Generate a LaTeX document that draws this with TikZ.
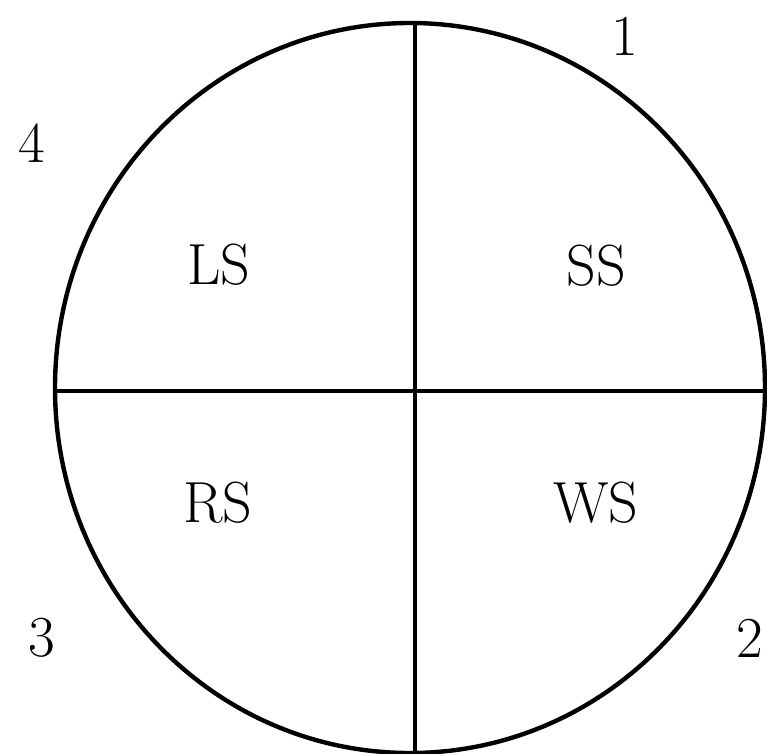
\documentclass[tikz,border=0pt]{standalone}
\usepackage{amsmath,amssymb}
\usetikzlibrary{calc}

\begin{document}
\begin{tikzpicture}[
  x=1pt,y=-1pt,
  cercle/.style={line width=4.4pt},
  axe/.style={line width=3.4pt},
  lbl/.style={font=\fontsize{58}{62}\selectfont,inner sep=0pt},
]
  \useasboundingbox (0,0) rectangle (767,753);

  % Coordonnees
  \coordinate (C) at (410,388);   % centre du cercle
  \coordinate (N) at (415,22);
  \coordinate (S) at (415,752);
  \coordinate (W) at (56,391);
  \coordinate (E) at (765,391);

  % Cercle
  \draw[cercle] (C) ellipse [x radius=355, y radius=365];

  % Axes
  \draw[axe] (N) -- (S);
  \draw[axe] (W) -- (E);

  % Quadrants
  \node[lbl] (ls) at (219,265) {LS};
  \node[lbl] (ss) at (596,266) {SS};
  \node[lbl] (rs) at (218,503) {RS};
  \node[lbl] (ws) at (596,503) {WS};

  % Numeros
  \node[lbl] (n1) at (625,36)  {1};
  \node[lbl] (n2) at (750,638) {2};
  \node[lbl] (n3) at (42,638)  {3};
  \node[lbl] (n4) at (32,143)  {4};
\end{tikzpicture}
\end{document}
